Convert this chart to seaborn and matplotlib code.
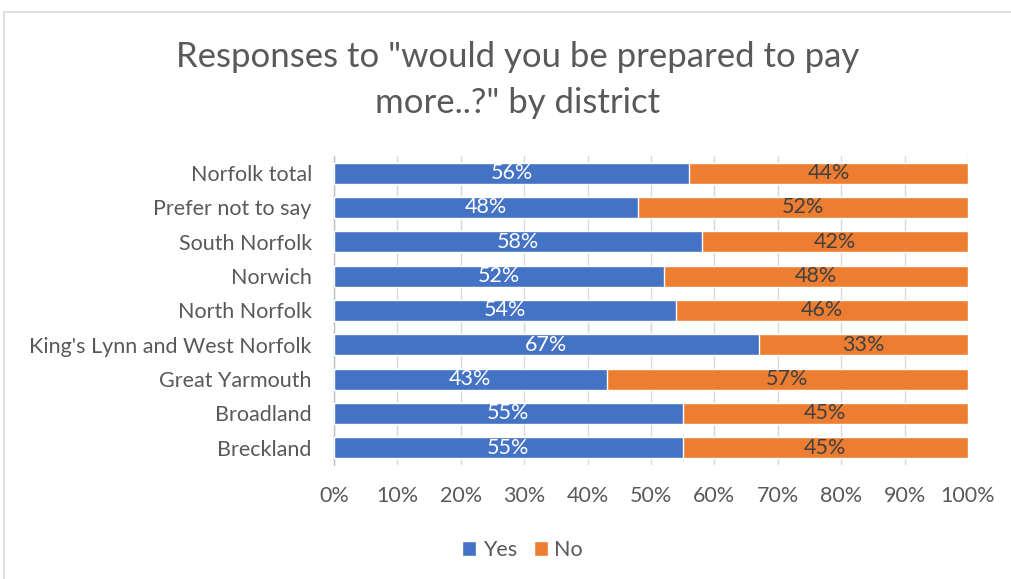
import matplotlib
matplotlib.use("Agg")
import matplotlib.pyplot as plt
import seaborn as sns
import pandas as pd
from matplotlib.patches import Rectangle, Patch

districts = ["Norfolk total", "Prefer not to say", "South Norfolk", "Norwich",
             "North Norfolk", "King's Lynn and West Norfolk", "Great Yarmouth",
             "Broadland", "Breckland"]
yes_pct = [56, 48, 58, 52, 54, 67, 43, 55, 55]
no_pct = [44, 52, 42, 48, 46, 33, 57, 45, 45]
tick_values = [0, 10, 20, 30, 40, 50, 60, 70, 80, 90, 100]
title = 'Responses to "would you be prepared to pay\nmore..?" by district'

BLUE = "#4472C4"
ORANGE = "#ED7D31"
TEXT = "#595959"
GRID = "#D9D9D9"
FS = 15.5

sns.set_theme(style="white")
plt.rcParams["font.family"] = ["Lato", "DejaVu Sans"]

df = pd.DataFrame({"district": districts, "yes": yes_pct, "no": no_pct})
df["total"] = df["yes"] + df["no"]

fig = plt.figure(figsize=(10.11, 5.79), dpi=100)
fig.patch.set_facecolor("white")
ax = fig.add_axes([0.3304, 0.1969, 0.6271, 0.5337])

sns.barplot(data=df, x="total", y="district", orient="h", color=ORANGE,
            width=0.62, saturation=1, ax=ax, zorder=3)
sns.barplot(data=df, x="yes", y="district", orient="h", color=BLUE,
            width=0.62, saturation=1, ax=ax, zorder=4)

for i, (y, n) in enumerate(zip(yes_pct, no_pct)):
    ax.text(y / 2, i, f"{y}%", ha="center", va="center", color="white",
            fontsize=FS, zorder=5)
    ax.text(y + n / 2, i, f"{n}%", ha="center", va="center", color="#404040",
            fontsize=FS, zorder=5)

ax.set_xlim(0, 100)
ax.set_ylim(len(districts) - 0.5, -0.5)
ax.set_xticks(tick_values)
ax.set_xticklabels([f"{t}%" for t in tick_values])
ax.set_xlabel("")
ax.set_ylabel("")
ax.xaxis.grid(True, color=GRID, linewidth=1, zorder=0)
ax.yaxis.grid(False)
for side in ["top", "right", "bottom"]:
    ax.spines[side].set_visible(False)
ax.spines["left"].set_color("#BFBFBF")
ax.spines["left"].set_linewidth(1)
ax.tick_params(axis="x", colors=TEXT, labelsize=FS, length=0, pad=15)
ax.tick_params(axis="y", colors=TEXT, labelsize=FS, length=0, pad=16)
for lbl in ax.get_xticklabels() + ax.get_yticklabels():
    lbl.set_color(TEXT)

fig.text(0.512, 0.862, title, ha="center", va="center", fontsize=25,
         color=TEXT, linespacing=1.55)

handles = [Patch(facecolor=BLUE, label="Yes"), Patch(facecolor=ORANGE, label="No")]
fig.legend(handles=handles, loc="center", bbox_to_anchor=(0.517, 0.05), ncol=2,
           frameon=False, fontsize=FS, handlelength=0.65, handleheight=0.65,
           handletextpad=0.3, columnspacing=0.8, labelcolor=TEXT)

# outer chart frame
fig.patches.append(Rectangle((4 / 1011, -0.05), 1.1, 1 - 12 / 579 + 0.05,
                             transform=fig.transFigure, fill=False,
                             edgecolor="#D9D9D9", linewidth=1.2))

fig.savefig("out.png", dpi=100, facecolor="white")
